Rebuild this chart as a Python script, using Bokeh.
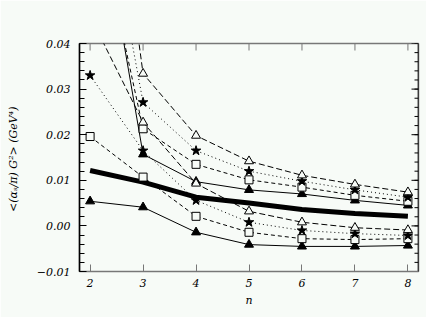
import math
from bokeh.plotting import figure
from bokeh.models import FixedTicker, Range1d
from bokeh.embed import file_html
from bokeh.resources import INLINE

n = [2, 3, 4, 5, 6, 7, 8]

# upper set
up_ftri = [0.083, 0.0157, 0.0097, 0.0079, 0.0070, 0.0056, 0.0045]
up_sq = [0.075, 0.0213, 0.0135, 0.0101, 0.0085, 0.0067, 0.0054]
up_star = [0.090, 0.0271, 0.0165, 0.0120, 0.0098, 0.0079, 0.0063]
up_otri = [0.120, 0.0334, 0.0198, 0.0142, 0.0111, 0.0091, 0.0074]

# lower set
lo_ftri = [0.0054, 0.0041, -0.0014, -0.0041, -0.0045, -0.0045, -0.0043]
lo_sq = [0.0196, 0.0107, 0.0021, -0.0014, -0.0028, -0.0030, -0.0028]
lo_star = [0.0330, 0.0165, 0.0056, 0.0008, -0.0010, -0.0017, -0.0021]
lo_otri = [0.046, 0.0227, 0.0093, 0.0032, 0.0008, -0.0004, -0.0009]

# thick central curve
central = [0.01215, 0.0096, 0.0063, 0.0050, 0.0036, 0.0027, 0.0021]

x_ticks = [2, 3, 4, 5, 6, 7, 8]
x_tick_labels = ["2", "3", "4", "5", "6", "7", "8"]
y_ticks = [-0.01, 0.0, 0.01, 0.02, 0.03, 0.04]
y_tick_labels = ["\u22120.01", "0.00", "0.01", "0.02", "0.03", "0.04"]
y_minor = [round(-0.01 + i * 0.002, 4) for i in range(26)]

X0, X1 = 1.8, 8.2
Y0, Y1 = -0.01, 0.04

BG = "#f7fbf7"
FONT = "DejaVu Serif"

p = figure(width=426, height=317, output_backend="svg", toolbar_location=None,
           x_range=Range1d(X0, X1), y_range=Range1d(Y0, Y1),
           min_border_left=79, min_border_right=8, min_border_top=43, min_border_bottom=46,
           background_fill_color=BG, border_fill_color=BG,
           outline_line_color="#777777", outline_line_width=1.5)
p.grid.visible = False

def style_axis(ax, color):
    ax.axis_line_color = color
    ax.major_tick_line_color = color
    ax.minor_tick_line_color = color
    ax.major_tick_out = 0
    ax.minor_tick_out = 0
    ax.major_label_text_font = FONT
    ax.major_label_text_font_style = "italic"
    ax.major_label_text_font_size = "11px"
    ax.major_label_text_color = "black"
    ax.axis_label_text_font = FONT
    ax.axis_label_text_font_style = "italic"
    ax.axis_label_text_font_size = "11px"
    ax.axis_label_text_color = "black"

xa = p.xaxis[0]
xa.ticker = FixedTicker(ticks=x_ticks, minor_ticks=[])
xa.major_label_overrides = dict(zip(x_ticks, x_tick_labels))
style_axis(xa, "#777777")
xa.major_tick_in = 7
xa.major_label_standoff = 7
xa.axis_label = "n"
xa.axis_label_standoff = 4

ya = p.yaxis[0]
ya.ticker = FixedTicker(ticks=y_ticks, minor_ticks=y_minor)
ya.major_label_overrides = dict(zip(y_ticks, y_tick_labels))
style_axis(ya, "black")
ya.axis_line_width = 1.5
ya.major_tick_in = 7
ya.minor_tick_in = 5
ya.major_label_standoff = 9
ya.axis_label = "<(\u03b1\u209b/\u03c0) G\u00b2>  (GeV\u2074)"
ya.axis_label_standoff = 14

# inward ticks on the top and right frame edges
p.ray(x=x_ticks, y=[Y1] * len(x_ticks), length=7, length_units="screen",
      angle=-math.pi / 2, line_color="#777777", line_width=1)
p.ray(x=[X1] * len(y_ticks), y=y_ticks, length=7, length_units="screen",
      angle=math.pi, line_color="black", line_width=1)
p.ray(x=[X1] * len(y_minor), y=y_minor, length=4, length_units="screen",
      angle=math.pi, line_color="black", line_width=1)
p.segment(x0=[X1], y0=[Y0], x1=[X1], y1=[Y1], line_color="black", line_width=1.5)

# central thick curve
p.line(n, central, line_color="black", line_width=5)

def series(vals, marker, dash, filled, size):
    p.line(n, vals, line_color="black", line_width=1, line_dash=dash)
    p.scatter(n, vals, marker=marker, size=size, line_color="black", line_width=1,
              fill_color="black" if filled else BG)

for vals, mk, dash, filled, size in [
        (up_ftri, "triangle", "solid", True, 9),
        (up_sq, "square", "4 3", False, 8),
        (up_star, "star", "1 3", True, 10),
        (up_otri, "triangle", "6 3", False, 9),
        (lo_ftri, "triangle", "solid", True, 9),
        (lo_sq, "square", "4 3", False, 8),
        (lo_star, "star", "1 3", True, 10),
        (lo_otri, "triangle", "6 3", False, 9)]:
    series(vals, mk, dash, filled, size)

open("out.html", "w").write(file_html(p, INLINE))
